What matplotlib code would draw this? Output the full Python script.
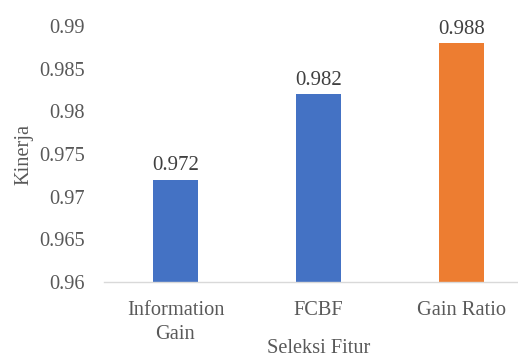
import matplotlib
matplotlib.use("Agg")
import matplotlib.pyplot as plt

categories = ["Information\nGain", "FCBF", "Gain Ratio"]
values = [0.972, 0.982, 0.988]
value_labels = ["0.972", "0.982", "0.988"]
y_ticks = [0.96, 0.965, 0.97, 0.975, 0.98, 0.985, 0.99]
y_tick_labels = ["0.96", "0.965", "0.97", "0.975", "0.98", "0.985", "0.99"]

BLUE = "#4472C4"
ORANGE = "#ED7D31"
TEXT = "#595959"

plt.rcParams["font.family"] = ["Liberation Serif", "DejaVu Serif"]

fig = plt.figure(figsize=(5.18, 3.58), dpi=100)
ax = fig.add_axes([104 / 518, 76 / 358, 429 / 518, 256 / 358])

colors = [BLUE, BLUE, ORANGE]
xs = range(len(categories))
ax.bar(xs, [v - 0.96 for v in values], bottom=0.96, width=0.31, color=colors)
for x, v, lab in zip(xs, values, value_labels):
    ax.annotate(lab, (x, v), xytext=(0, 3), textcoords="offset points",
                ha="center", va="bottom", fontsize=15, color="#404040")

ax.set_xlim(-0.5, 2.5)
ax.set_ylim(0.96, 0.99)
ax.set_yticks(y_ticks)
ax.set_yticklabels(y_tick_labels)
ax.set_xticks(list(xs))
ax.set_xticklabels(categories, linespacing=1.3)
ax.tick_params(axis="y", length=0, pad=14, labelsize=14.7, labelcolor=TEXT)
ax.tick_params(axis="x", length=0, pad=14, labelsize=14.7, labelcolor=TEXT)

for s in ("top", "right", "left"):
    ax.spines[s].set_visible(False)
ax.spines["bottom"].set_color("#D9D9D9")
ax.spines["bottom"].set_linewidth(1.0)

ax.set_xlabel("Seleksi Fitur", fontsize=14.7, color=TEXT)
ax.xaxis.set_label_coords(0.5, -0.222)
ax.set_ylabel("Kinerja", fontsize=14.7, color=TEXT, labelpad=4)

fig.savefig("out.png", dpi=100)
